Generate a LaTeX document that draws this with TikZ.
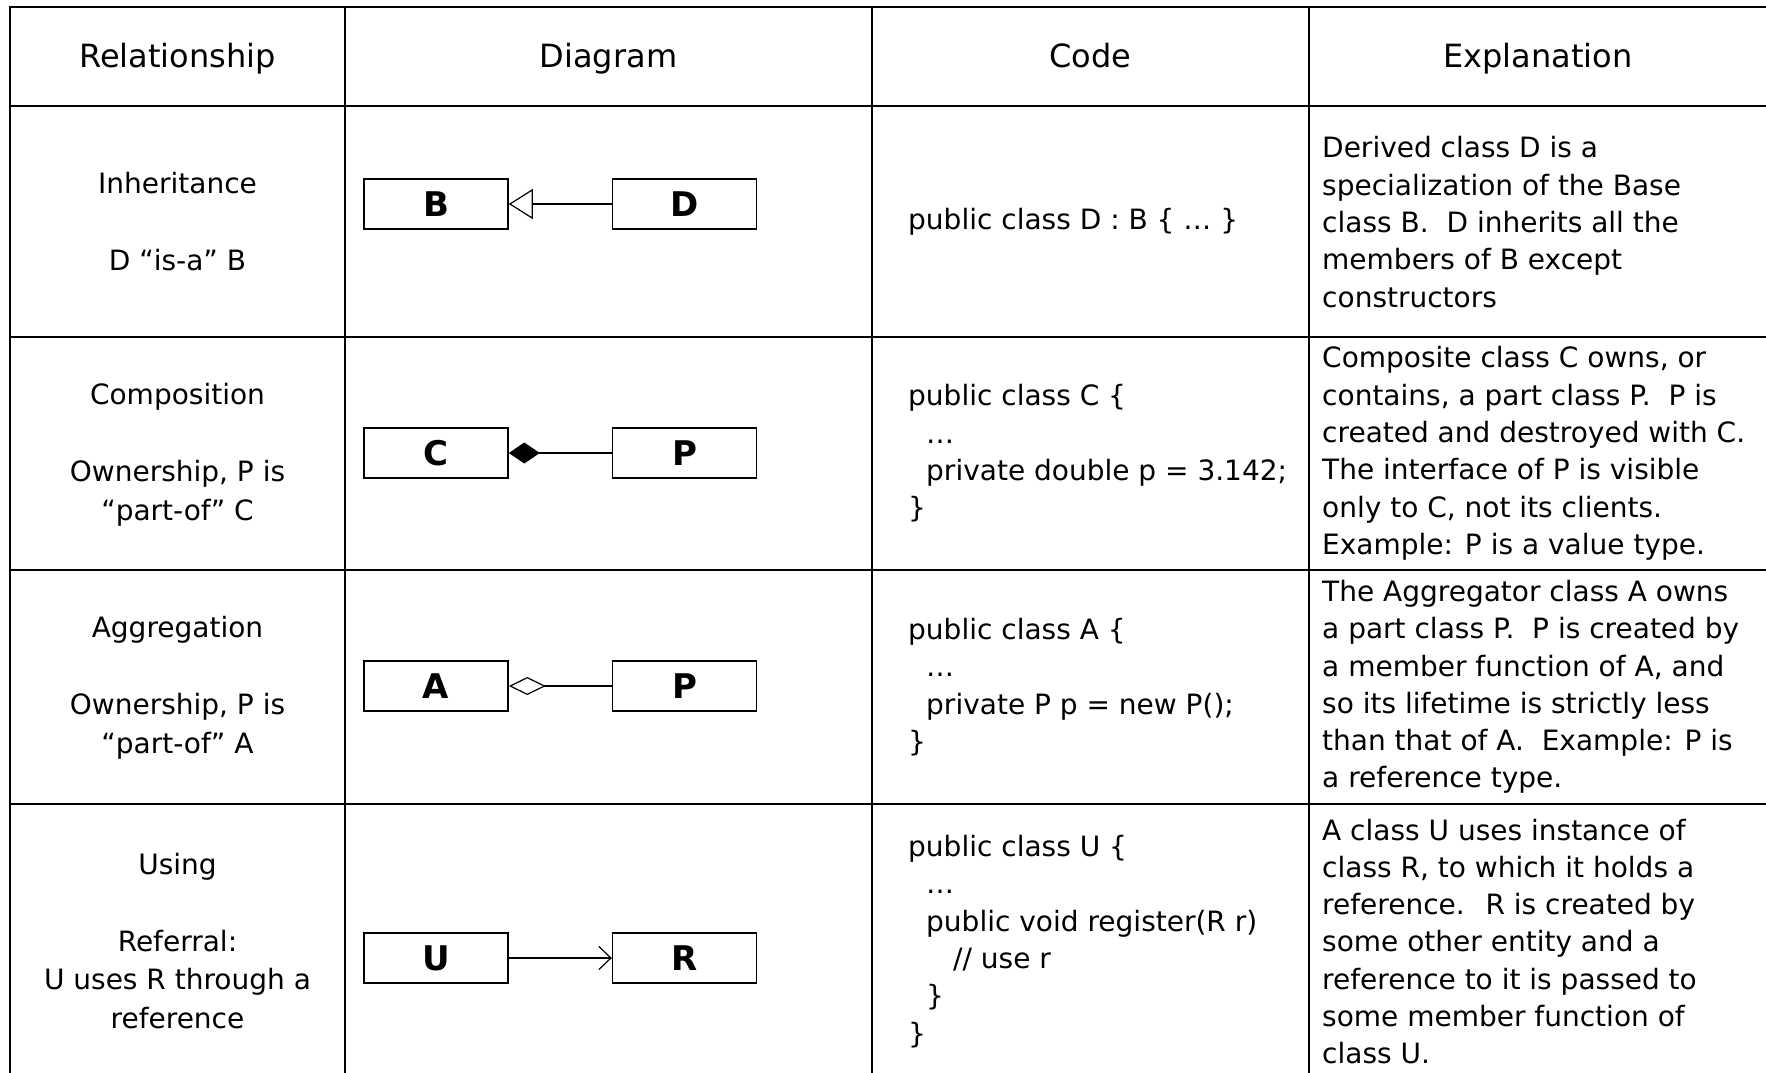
\documentclass[tikz,border=0pt]{standalone}
\usepackage{fontspec}
\setmainfont{DejaVu Sans}
\usetikzlibrary{positioning, arrows.meta}
\tikzset{
  tablerule/.style={
    draw=black,
    line width=2pt
  },
  head/.style={
    anchor=base,
    inner sep=0pt,
    font=\fontsize{32}{38}\selectfont
  },
  cell/.style={
    align=center,
    inner sep=0pt,
    font=\fontsize{28}{38.5}\selectfont
  },
  code/.style={
    align=left,
    anchor=west,
    inner sep=0pt,
    font=\fontsize{28}{37.3}\selectfont
  },
  expl/.style={
    align=left,
    anchor=west,
    inner sep=0pt,
    font=\fontsize{28}{37.3}\selectfont
  },
  classbox/.style={
    rectangle,
    draw=black, line width=1.6pt,
    minimum width=144pt,
    minimum height=50pt,
    inner sep=0pt,
    font=\fontsize{34}{40}\selectfont\bfseries
  },
  link/.style={
    draw=black,
    line width=1.2pt
  }
}

\begin{document}
\begin{tikzpicture}[x=1pt, y=-1pt]
\useasboundingbox (0,0) rectangle (1766,1072);
\clip (0,0) rectangle (1766,1072);

% table
\draw[tablerule] (10,7) rectangle (1770,1082);
\draw[tablerule] (10,106) -- (1770,106);
\draw[tablerule] (10,337) -- (1770,337);
\draw[tablerule] (10,570) -- (1770,570);
\draw[tablerule] (10,804) -- (1770,804);
\draw[tablerule] (345,7) -- (345,1082);
\draw[tablerule] (872,7) -- (872,1082);
\draw[tablerule] (1309,7) -- (1309,1082);

% header
\node[head] (hRel)  at (177.5,67) {Relationship};
\node[head] (hDia)  at (608.5,67) {Diagram};
\node[head] (hCode) at (1090.5,67) {Code};
\node[head] (hExp)  at (1538,67) {Explanation};

% relationship column
\node[cell] (rInh) at (177.5,222) {Inheritance\\[38.5pt]D “is-a” B};
\node[cell] (rCom) at (177.5,455) {Composition\\[38.5pt]Ownership, P is\\“part-of” C};
\node[cell] (rAgg) at (177.5,688) {Aggregation\\[38.5pt]Ownership, P is\\“part-of” A};
\node[cell] (rUse) at (177.5,941) {Using\\[38.5pt]Referral:\\U uses R through a\\reference};

% diagram column
\node[classbox] (B) at (436,204) {B};
\node[classbox, right = 103pt of B] (D) {D};

\node[classbox] (C) at (436,453) {C};
\node[classbox, right = 103pt of C] (Pc) {P};

\node[classbox] (A) at (436,686) {A};
\node[classbox, right = 103pt of A] (Pa) {P};

\node[classbox] (U) at (436,958) {U};
\node[classbox, right = 103pt of U] (R) {R};

% edges
\draw[link, -{Triangle[open, length=24pt, width=30pt]}] (D.west) -- (B.east);
\draw[link, {Diamond[length=31pt, width=21pt]}-] (C.east) -- (Pc.west);
\draw[link, {Diamond[open, length=37pt, width=18pt]}-] (A.east) -- (Pa.west);
\draw[link, -{Straight Barb[length=12pt, width=23pt]}] (U.east) -- (R.west);

% code column
\node[code] (cInh) at (908,222) {public class D : B \{ … \}};
\node[code] (cCom) at (908,453.5) {public class C \{\\
  \hspace*{18pt}…\\
  \hspace*{18pt}private double p = 3.142;\\
  \}};
\node[code] (cAgg) at (908,687) {public class A \{\\
  \hspace*{18pt}…\\
  \hspace*{18pt}private P p = new P();\\
  \}};
\node[code] (cUse) at (908,941.5) {public class U \{\\
  \hspace*{18pt}…\\
  \hspace*{18pt}public void register(R r)\\
  \hspace*{45pt}// use r\\
  \hspace*{18pt}\}\\
  \}};

% explanation column
\node[expl] (eInh) at (1322,222) {Derived class D is a\\
  specialization of the Base\\
  class B.~ D inherits all the\\
  members of B except\\
  constructors};
\node[expl] (eCom) at (1322,453.5) {Composite class C owns, or\\
  contains, a part class P.~ P is\\
  created and destroyed with C.\\
  The interface of P is visible\\
  only to C, not its clients.\\
  Example: P is a value type.};
\node[expl] (eAgg) at (1322,687) {The Aggregator class A owns\\
  a part class P.~ P is created by\\
  a member function of A, and\\
  so its lifetime is strictly less\\
  than that of A.~ Example: P is\\
  a reference type.};
\node[expl] (eUse) at (1322,941.5) {A class U uses instance of\\
  class R, to which it holds a\\
  reference.~ R is created by\\
  some other entity and a\\
  reference to it is passed to\\
  some member function of\\
  class U.};

\end{tikzpicture}
\end{document}
